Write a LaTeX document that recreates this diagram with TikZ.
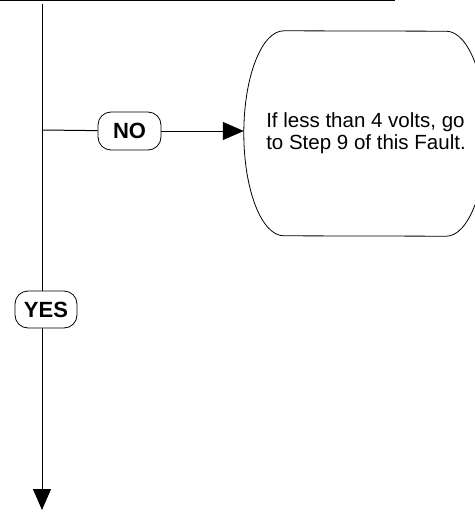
\documentclass[tikz,border=0pt]{standalone}
\usepackage{fontspec}
\setmainfont{Liberation Sans}
\usetikzlibrary{arrows.meta,calc}
\begin{document}
\begin{tikzpicture}[x=1pt,y=-1pt,
  flow/.style={line width=1pt, draw=black},
  tip/.style={-{Triangle[length=21pt,width=18pt]}},
  answer/.style={draw, line width=0.8pt, rounded corners=13pt, inner sep=0pt,
    font=\fontsize{22}{24}\selectfont\bfseries},
  outline/.style={draw, line width=0.8pt}]
  \useasboundingbox (0,0) rectangle (474,519);

  % edge of the step above
  \coordinate (tl) at (0,0.75);
  \coordinate (tr) at (395,0.75);
  \draw[line width=1.5pt] (tl) -- (tr);

  % main flow line
  \coordinate (top) at (42,4);
  \coordinate (j) at (42,130);
  \coordinate (bottom) at (42,510);

  % answer labels
  \node[answer, minimum width=63pt, minimum height=38pt] (no) at (129.5,131) {NO};
  \node[answer, minimum width=62pt, minimum height=37pt] (yes) at (46,309.5) {YES};

  % terminal box with bulging sides
  \node[minimum width=242pt, minimum height=205pt, inner sep=0pt,
        align=left, font=\fontsize{20.5}{22}\selectfont] (fault) at (365,133.5)
        {\hspace*{2pt}If less than 4 volts, go\\\hspace*{2pt}to Step 9 of this Fault.};
  \draw[outline]
    ([xshift=40pt]fault.north west)
      arc[start angle=90, end angle=270, x radius=40pt, y radius=102.5pt]
    -- ([xshift=-40pt]fault.south east)
      arc[start angle=-90, end angle=90, x radius=40pt, y radius=102.5pt]
    -- cycle;

  % connectors
  \draw[flow] (top) -- (top |- yes.north);
  \draw[flow, tip] (top |- yes.south) -- (bottom);
  \draw[flow] (j) -- (no);
  \draw[flow, tip] (no) -- (no -| fault.west);
\end{tikzpicture}
\end{document}
